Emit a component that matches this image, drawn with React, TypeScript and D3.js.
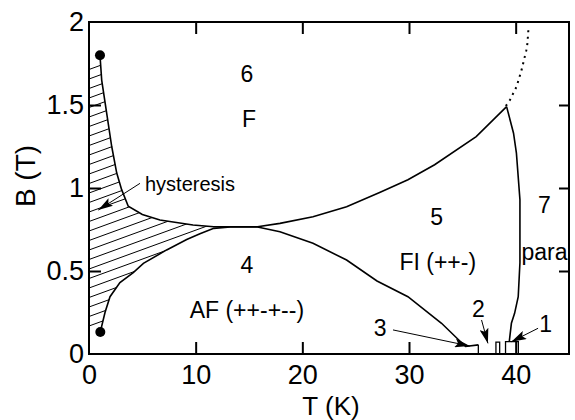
import * as d3 from "d3";
import { useEffect, useRef } from "react";

const width = 575;
const height = 420;
const margin = { top: 22, right: 6, bottom: 66, left: 89 };

// phase boundaries, points are [T (K), B (T)]
const upperBoundary: [number, number][] = [
  [1.03, 1.8], [1.19, 1.65], [1.66, 1.45], [2.13, 1.25], [2.6, 1.09], [3.06, 0.99],
  [3.68, 0.89], [5.0, 0.84], [6.65, 0.807], [9.75, 0.777], [11.7, 0.767], [13.5, 0.767],
  [15.8, 0.767], [17.9, 0.787], [21.0, 0.827], [24.15, 0.887], [27.3, 0.975],
  [29.9, 1.05], [32.4, 1.14], [36.3, 1.31], [39.15, 1.49],
];
const lowerBoundary: [number, number][] = [
  [1.06, 0.133], [1.5, 0.25], [1.97, 0.345], [2.9, 0.43], [4.15, 0.49], [5.1, 0.546],
  [7.28, 0.627], [9.16, 0.69], [10.4, 0.725], [11.7, 0.757], [13.5, 0.767], [15.8, 0.765],
  [17.9, 0.737], [21.0, 0.667], [24.15, 0.566], [27.0, 0.44], [29.9, 0.345],
  [33.05, 0.185], [35.3, 0.045], [36.5, 0.055],
];
const paraBoundary: [number, number][] = [
  [39.15, 1.49], [39.8, 1.33], [40.07, 1.21], [40.4, 0.93], [40.4, 0.55], [40.24, 0.345],
  [39.9, 0.245], [39.6, 0.185], [39.4, 0.075],
];
const dottedBoundary: [number, number][] = [
  [39.08, 1.494], [39.46, 1.53], [40.08, 1.61], [40.55, 1.71], [41.0, 1.83], [41.1, 1.87], [41.2, 1.96],
];
const hysteresisEnds: [number, number][] = [[1.03, 1.8], [1.06, 0.133]];
const smallRegions: [number, number][][] = [
  [[36.5, 0], [36.5, 0.055]],
  [[38.15, 0], [38.15, 0.072], [38.5, 0.072], [38.5, 0]],
  [[39.05, 0], [39.05, 0.075], [40.25, 0.075], [40.25, 0]],
];

const xTicks = [0, 10, 20, 30, 40];
const yTicks = [0, 0.5, 1, 1.5, 2];
const yTickLabels = ["0", "0.5", "1", "1.5", "2"];

const regionLabels = [
  { text: "6", t: 14.8, b: 1.64 },
  { text: "F", t: 15.0, b: 1.366 },
  { text: "4", t: 14.8, b: 0.486 },
  { text: "AF (++-+--)", t: 14.8, b: 0.215 },
  { text: "5", t: 32.6, b: 0.777 },
  { text: "FI (++-)", t: 32.7, b: 0.506 },
  { text: "7", t: 42.7, b: 0.847 },
  { text: "para", t: 42.7, b: 0.566 },
  { text: "1", t: 42.8, b: 0.134 },
  { text: "2", t: 36.5, b: 0.225 },
  { text: "3", t: 27.3, b: 0.11 },
];
const arrows = [
  { from: [4.78, 1.028], to: [0.87, 0.867] },
  { from: [28.5, 0.145], to: [35.7, 0.048] },
  { from: [36.8, 0.205], to: [37.4, 0.064] },
  { from: [42.1, 0.155], to: [39.6, 0.074] },
];

const font = "'Liberation Sans', Arial, Helvetica, sans-serif";

export default function App() {
  const svgRef = useRef<SVGSVGElement>(null);

  useEffect(() => {
    const svg = d3.select(svgRef.current);
    svg.selectAll("*").remove();

    const x = d3.scaleLinear().domain([0, 45]).range([margin.left, width - margin.right]);
    const y = d3.scaleLinear().domain([0, 2]).range([height - margin.bottom, margin.top]);

    const line = d3
      .line<[number, number]>()
      .x((d) => x(d[0]))
      .y((d) => y(d[1]));

    const defs = svg.append("defs");
    defs
      .append("marker")
      .attr("id", "head")
      .attr("markerUnits", "userSpaceOnUse")
      .attr("viewBox", "0 0 15 9")
      .attr("markerWidth", 15)
      .attr("markerHeight", 9)
      .attr("refX", 15)
      .attr("refY", 4.5)
      .attr("orient", "auto")
      .append("path")
      .attr("d", "M0,0L15,4.5L0,9L3,4.5Z")
      .attr("fill", "black");

    // hatched hysteresis area
    const hatchPoly: [number, number][] = [
      [0, 1.75],
      ...upperBoundary.filter((d) => d[0] <= 11.7),
      ...lowerBoundary.filter((d) => d[0] <= 11.7).reverse(),
      [0, 0.15],
    ];
    defs.append("clipPath").attr("id", "hatch").append("path").attr("d", line(hatchPoly) + "Z");
    const slope = Math.tan((20 * Math.PI) / 180);
    svg
      .append("g")
      .attr("clip-path", "url(#hatch)")
      .selectAll("line")
      .data(d3.range(60, 420, 9.5))
      .join("line")
      .attr("x1", margin.left)
      .attr("y1", (d) => d)
      .attr("x2", margin.left + 180)
      .attr("y2", (d) => d - 180 * slope)
      .attr("stroke", "black")
      .attr("stroke-width", 1);

    const curves = svg.append("g").attr("fill", "none").attr("stroke", "black");
    [upperBoundary, lowerBoundary, paraBoundary].forEach((pts) =>
      curves.append("path").attr("d", line(pts)).attr("stroke-width", 1.6)
    );
    smallRegions.forEach((pts) => curves.append("path").attr("d", line(pts)).attr("stroke-width", 1.3));
    curves
      .append("path")
      .attr("d", line(dottedBoundary))
      .attr("stroke-width", 2)
      .attr("stroke-dasharray", "2,4.5");

    svg
      .append("g")
      .selectAll("circle")
      .data(hysteresisEnds)
      .join("circle")
      .attr("cx", (d) => x(d[0]))
      .attr("cy", (d) => y(d[1]))
      .attr("r", 5)
      .attr("fill", "black");

    svg
      .append("g")
      .selectAll("line")
      .data(arrows)
      .join("line")
      .attr("x1", (d) => x(d.from[0]))
      .attr("y1", (d) => y(d.from[1]))
      .attr("x2", (d) => x(d.to[0]))
      .attr("y2", (d) => y(d.to[1]))
      .attr("stroke", "black")
      .attr("stroke-width", 1)
      .attr("marker-end", "url(#head)");

    svg
      .append("g")
      .attr("font-family", font)
      .attr("font-size", 23)
      .attr("text-anchor", "middle")
      .selectAll("text")
      .data(regionLabels)
      .join("text")
      .attr("x", (d) => x(d.t))
      .attr("y", (d) => y(d.b))
      .text((d) => d.text);

    svg
      .append("text")
      .attr("x", x(5.25))
      .attr("y", y(0.984))
      .attr("font-family", font)
      .attr("font-size", 20)
      .text("hysteresis");

    // axes: inward ticks on all four sides
    const tick = 12;
    const bottom = svg.append("g").attr("transform", `translate(0,${y(0)})`).call(
      d3.axisBottom(x).tickValues(xTicks).tickSizeInner(-tick).tickSizeOuter(0).tickPadding(11)
    );
    const left = svg.append("g").attr("transform", `translate(${x(0)},0)`).call(
      d3
        .axisLeft(y)
        .tickValues(yTicks)
        .tickFormat((d, i) => yTickLabels[i])
        .tickSizeInner(-tick)
        .tickSizeOuter(0)
        .tickPadding(5)
    );
    svg.append("g").attr("transform", `translate(0,${y(2)})`).call(
      d3.axisTop(x).tickValues(xTicks.slice(1)).tickSizeInner(-tick).tickSizeOuter(0).tickFormat(() => "")
    );
    svg.append("g").attr("transform", `translate(${x(45)},0)`).call(
      d3.axisRight(y).tickValues(yTicks.slice(1, -1)).tickSizeInner(-10).tickSizeOuter(0).tickFormat(() => "")
    );
    svg.selectAll(".domain").remove();
    svg.selectAll(".tick line").attr("stroke-width", 2);
    [bottom, left].forEach((g) =>
      g.selectAll("text").attr("font-family", font).attr("font-size", 27).attr("fill", "black")
    );
    left.selectAll(".tick").filter((d) => d === 0 || d === 2).select("line").remove();
    bottom.selectAll(".tick").filter((d) => d === 0).select("line").remove();

    svg
      .append("rect")
      .attr("x", x(0))
      .attr("y", y(2))
      .attr("width", x(45) - x(0))
      .attr("height", y(0) - y(2))
      .attr("fill", "none")
      .attr("stroke", "black")
      .attr("stroke-width", 2);

    svg
      .append("text")
      .attr("x", (x(0) + x(45)) / 2 + 2)
      .attr("y", 415)
      .attr("text-anchor", "middle")
      .attr("font-family", font)
      .attr("font-size", 26)
      .text("T (K)");
    svg
      .append("text")
      .attr("transform", `translate(35,176) rotate(-90)`)
      .attr("text-anchor", "middle")
      .attr("font-family", font)
      .attr("font-size", 28)
      .text("B (T)");
  }, []);

  return (
    <svg
      ref={svgRef}
      width={width}
      height={height}
      style={{ position: "absolute", left: 0, top: 0, background: "white" }}
    />
  );
}
